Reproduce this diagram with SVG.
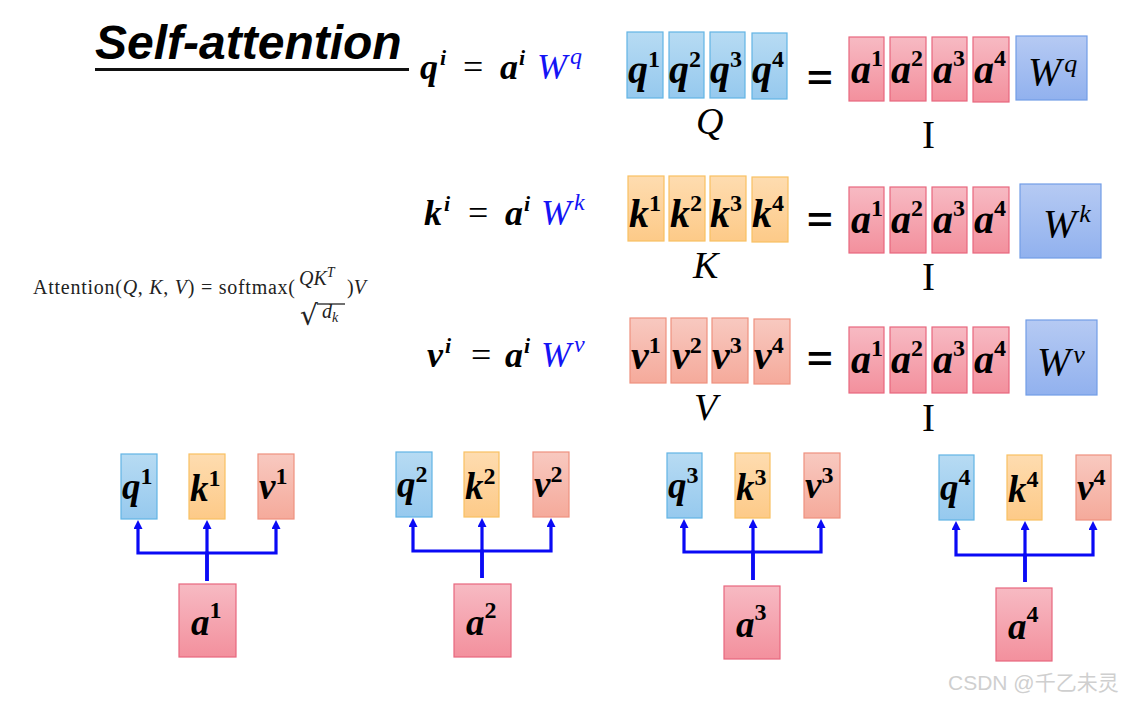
<svg xmlns="http://www.w3.org/2000/svg" width="1122" height="703" viewBox="0 0 1122 703">
<defs>
<linearGradient id="gq" x1="0" y1="0" x2="0" y2="1"><stop offset="0" stop-color="#b7dbf3"/><stop offset="1" stop-color="#96c9ee"/></linearGradient>
<linearGradient id="gk" x1="0" y1="0" x2="0" y2="1"><stop offset="0" stop-color="#fedcb0"/><stop offset="1" stop-color="#fdca88"/></linearGradient>
<linearGradient id="gv" x1="0" y1="0" x2="0" y2="1"><stop offset="0" stop-color="#f8c9c0"/><stop offset="1" stop-color="#f5aa9b"/></linearGradient>
<linearGradient id="ga" x1="0" y1="0" x2="0" y2="1"><stop offset="0" stop-color="#f7bac3"/><stop offset="1" stop-color="#f3909d"/></linearGradient>
<linearGradient id="gw" x1="0" y1="0" x2="0" y2="1"><stop offset="0" stop-color="#b6caf3"/><stop offset="1" stop-color="#91b1ee"/></linearGradient>
<marker id="ah" viewBox="0 0 10 10" refX="0" refY="5" markerWidth="9" markerHeight="9" markerUnits="userSpaceOnUse" orient="auto"><path d="M0,0 L10,5 L0,10 z" fill="#0a0af5"/></marker>
</defs>
<style>
.q{fill:url(#gq);stroke:#62b4e4;stroke-width:1.2}
.k{fill:url(#gk);stroke:#f8c062;stroke-width:1.2}
.v{fill:url(#gv);stroke:#ee917f;stroke-width:1.2}
.a{fill:url(#ga);stroke:#e8677e;stroke-width:1.2}
.w{fill:url(#gw);stroke:#729de6;stroke-width:1.2}
.m{font-family:"Liberation Serif","DejaVu Serif",serif;font-style:italic;font-weight:bold;fill:#000}
.big{font-size:40px}
.sm{font-size:37px}
.sup{font-style:normal;font-weight:bold;font-size:24px}
.wi{font-family:"Liberation Serif","DejaVu Serif",serif;font-style:italic;font-size:40px;fill:#000}
.wsup{font-size:26px}
.lab{font-family:"Liberation Serif","DejaVu Serif",serif;font-style:italic;font-size:38px;fill:#000}
.ii{font-family:"Liberation Serif","DejaVu Serif",serif;font-size:39px;fill:#000}
.eq{font-family:"Liberation Sans",Arial,sans-serif;font-weight:bold;font-size:44px;fill:#000}
.eqn{font-family:"Liberation Serif","DejaVu Serif",serif;font-size:36px;fill:#000}
.bl{font-style:italic;font-weight:bold}
.bsup{font-style:italic;font-weight:bold;font-size:22px}
.blue{font-style:italic;fill:#1414f5}
.bsupb{font-style:italic;font-size:24px;fill:#1414f5}
.cm{font-family:"Liberation Serif","DejaVu Serif",serif;font-size:20px;fill:#222}
.rad{font-family:"DejaVu Serif","Liberation Serif",serif;font-size:28px;fill:#222}
.conn path{fill:none;stroke:#0a0af5;stroke-width:3.2;marker-end:url(#ah)}
</style>

<g id="title">
<text x="95" y="59" font-family="Liberation Sans,Arial,sans-serif" font-weight="bold" font-style="italic" font-size="48" fill="#000">Self-attention</text>
<rect x="95" y="68" width="314" height="3" fill="#111"/>
</g>

<g id="formula">
<text class="cm" x="33" y="294" textLength="262" lengthAdjust="spacing">Attention(<tspan font-style="italic">Q</tspan>, <tspan font-style="italic">K</tspan>, <tspan font-style="italic">V</tspan>) = softmax(</text>
<text class="cm" x="299" y="285" font-style="italic">QK<tspan font-size="14" dy="-8">T</tspan></text>
<text class="rad" x="300" y="325">√</text>
<line x1="317" y1="304" x2="345" y2="304" stroke="#222" stroke-width="1.3"/>
<text class="cm" x="322" y="318" font-style="italic">d<tspan font-size="14" dy="4">k</tspan></text>
<text class="cm" x="347" y="294">)<tspan font-style="italic">V</tspan></text>
</g>

<g id="eq-q">
<text class="eqn" y="79"><tspan x="420" class="bl">q</tspan><tspan dx="2" dy="-14" class="bsup">i</tspan><tspan x="463" dy="14">=</tspan><tspan x="500" class="bl">a</tspan><tspan dx="1" dy="-14" class="bsup">i</tspan><tspan x="537" dy="14" class="blue">W</tspan><tspan dx="3" dy="-15" class="bsupb">q</tspan></text>
</g>
<g id="eq-k">
<text class="eqn" y="225"><tspan x="424" class="bl">k</tspan><tspan dx="2" dy="-14" class="bsup">i</tspan><tspan x="468" dy="14">=</tspan><tspan x="505" class="bl">a</tspan><tspan dx="1" dy="-14" class="bsup">i</tspan><tspan x="541" dy="14" class="blue">W</tspan><tspan dx="3" dy="-15" class="bsupb">k</tspan></text>
</g>
<g id="eq-v">
<text class="eqn" y="367"><tspan x="427" class="bl">v</tspan><tspan dx="2" dy="-14" class="bsup">i</tspan><tspan x="471" dy="14">=</tspan><tspan x="505" class="bl">a</tspan><tspan dx="1" dy="-14" class="bsup">i</tspan><tspan x="541" dy="14" class="blue">W</tspan><tspan dx="3" dy="-15" class="bsupb">v</tspan></text>
</g>

<!-- Row 1: Q = I Wq -->
<g id="Q1"><rect class="q" x="627" y="32" width="36" height="66"/><text class="m big" x="628" y="83">q<tspan class="sup" dy="-16">1</tspan></text></g>
<g id="Q2"><rect class="q" x="669" y="32" width="35" height="66"/><text class="m big" x="669" y="83">q<tspan class="sup" dy="-16">2</tspan></text></g>
<g id="Q3"><rect class="q" x="710" y="32" width="35" height="66"/><text class="m big" x="710" y="83">q<tspan class="sup" dy="-16">3</tspan></text></g>
<g id="Q4"><rect class="q" x="752" y="33" width="35" height="66"/><text class="m big" x="752" y="83">q<tspan class="sup" dy="-16">4</tspan></text></g>
<g id="eq1"><text class="eq" x="807" y="90" transform="translate(0,18) scale(1,0.8)">=</text></g>
<g id="A1r1"><rect class="a" x="849" y="37" width="35" height="64"/><text class="m big" x="851" y="83">a<tspan class="sup" dy="-17">1</tspan></text></g>
<g id="A2r1"><rect class="a" x="890" y="37" width="36" height="64"/><text class="m big" x="891" y="83">a<tspan class="sup" dy="-17">2</tspan></text></g>
<g id="A3r1"><rect class="a" x="932" y="37" width="35" height="64"/><text class="m big" x="933" y="83">a<tspan class="sup" dy="-17">3</tspan></text></g>
<g id="A4r1"><rect class="a" x="973" y="37" width="36" height="65"/><text class="m big" x="974" y="83">a<tspan class="sup" dy="-17">4</tspan></text></g>
<g id="Wq"><rect class="w" x="1016" y="36" width="71" height="64"/><text class="wi" x="1028" y="85">W<tspan class="wsup" dx="3" dy="-13">q</tspan></text></g>
<g id="labQ"><text class="lab" x="696" y="134">Q</text></g>
<g id="labI1"><text class="ii" x="922" y="148">I</text></g>

<!-- Row 2: K = I Wk -->
<g id="K1"><rect class="k" x="628" y="176" width="36" height="65"/><text class="m big" x="629" y="227">k<tspan class="sup" dy="-16">1</tspan></text></g>
<g id="K2"><rect class="k" x="669" y="176" width="36" height="65"/><text class="m big" x="670" y="227">k<tspan class="sup" dy="-16">2</tspan></text></g>
<g id="K3"><rect class="k" x="710" y="176" width="36" height="65"/><text class="m big" x="710" y="227">k<tspan class="sup" dy="-16">3</tspan></text></g>
<g id="K4"><rect class="k" x="752" y="177" width="36" height="65"/><text class="m big" x="752" y="227">k<tspan class="sup" dy="-16">4</tspan></text></g>
<g id="eq2"><text class="eq" x="807" y="90" transform="translate(0,160) scale(1,0.8)">=</text></g>
<g id="A1r2"><rect class="a" x="849" y="187" width="35" height="66"/><text class="m big" x="851" y="233">a<tspan class="sup" dy="-17">1</tspan></text></g>
<g id="A2r2"><rect class="a" x="890" y="187" width="36" height="66"/><text class="m big" x="891" y="233">a<tspan class="sup" dy="-17">2</tspan></text></g>
<g id="A3r2"><rect class="a" x="932" y="187" width="35" height="66"/><text class="m big" x="933" y="233">a<tspan class="sup" dy="-17">3</tspan></text></g>
<g id="A4r2"><rect class="a" x="973" y="187" width="36" height="66"/><text class="m big" x="974" y="233">a<tspan class="sup" dy="-17">4</tspan></text></g>
<g id="Wk"><rect class="w" x="1020" y="184" width="81" height="74"/><text class="wi" x="1043" y="237">W<tspan class="wsup" dx="3" dy="-15">k</tspan></text></g>
<g id="labK"><text class="lab" x="693" y="278">K</text></g>
<g id="labI2"><text class="ii" x="922" y="290">I</text></g>

<!-- Row 3: V = I Wv -->
<g id="V1"><rect class="v" x="630" y="318" width="36" height="65"/><text class="m big" x="631" y="369">v<tspan class="sup" dy="-16">1</tspan></text></g>
<g id="V2"><rect class="v" x="671" y="318" width="36" height="65"/><text class="m big" x="672" y="369">v<tspan class="sup" dy="-16">2</tspan></text></g>
<g id="V3"><rect class="v" x="712" y="318" width="36" height="65"/><text class="m big" x="712" y="369">v<tspan class="sup" dy="-16">3</tspan></text></g>
<g id="V4"><rect class="v" x="754" y="319" width="36" height="65"/><text class="m big" x="754" y="369">v<tspan class="sup" dy="-16">4</tspan></text></g>
<g id="eq3"><text class="eq" x="807" y="90" transform="translate(0,299) scale(1,0.8)">=</text></g>
<g id="A1r3"><rect class="a" x="849" y="327" width="35" height="66"/><text class="m big" x="851" y="373">a<tspan class="sup" dy="-17">1</tspan></text></g>
<g id="A2r3"><rect class="a" x="890" y="327" width="36" height="66"/><text class="m big" x="891" y="373">a<tspan class="sup" dy="-17">2</tspan></text></g>
<g id="A3r3"><rect class="a" x="932" y="327" width="35" height="66"/><text class="m big" x="933" y="373">a<tspan class="sup" dy="-17">3</tspan></text></g>
<g id="A4r3"><rect class="a" x="973" y="327" width="36" height="66"/><text class="m big" x="974" y="373">a<tspan class="sup" dy="-17">4</tspan></text></g>
<g id="Wv"><rect class="w" x="1026" y="320" width="71" height="75"/><text class="wi" x="1037" y="375">W<tspan class="wsup" dx="3" dy="-12">v</tspan></text></g>
<g id="labV"><text class="lab" x="694" y="420">V</text></g>
<g id="labI3"><text class="ii" x="922" y="431">I</text></g>

<!-- Bottom groups -->
<g id="q1"><rect class="q" x="121" y="454" width="36" height="65"/><text class="m sm" x="122" y="499">q<tspan class="sup" dy="-15">1</tspan></text></g>
<g id="k1"><rect class="k" x="189" y="454" width="36" height="65"/><text class="m sm" x="190" y="501">k<tspan class="sup" dy="-15">1</tspan></text></g>
<g id="v1"><rect class="v" x="258" y="454" width="36" height="65"/><text class="m sm" x="259" y="499">v<tspan class="sup" dy="-15">1</tspan></text></g>
<g id="a1"><rect class="a" x="179" y="584" width="57" height="73"/><text class="m sm" x="191" y="635">a<tspan class="sup" dy="-17">1</tspan></text></g>

<g id="q2"><rect class="q" x="396" y="452" width="36" height="65"/><text class="m sm" x="397" y="497">q<tspan class="sup" dy="-15">2</tspan></text></g>
<g id="k2"><rect class="k" x="464" y="452" width="35" height="65"/><text class="m sm" x="465" y="499">k<tspan class="sup" dy="-15">2</tspan></text></g>
<g id="v2"><rect class="v" x="533" y="452" width="36" height="65"/><text class="m sm" x="534" y="497">v<tspan class="sup" dy="-15">2</tspan></text></g>
<g id="a2"><rect class="a" x="454" y="584" width="57" height="73"/><text class="m sm" x="466" y="635">a<tspan class="sup" dy="-17">2</tspan></text></g>

<g id="q3"><rect class="q" x="667" y="453" width="35" height="65"/><text class="m sm" x="668" y="498">q<tspan class="sup" dy="-15">3</tspan></text></g>
<g id="k3"><rect class="k" x="735" y="453" width="35" height="65"/><text class="m sm" x="736" y="500">k<tspan class="sup" dy="-15">3</tspan></text></g>
<g id="v3"><rect class="v" x="804" y="453" width="36" height="65"/><text class="m sm" x="805" y="498">v<tspan class="sup" dy="-15">3</tspan></text></g>
<g id="a3"><rect class="a" x="724" y="586" width="56" height="73"/><text class="m sm" x="736" y="637">a<tspan class="sup" dy="-17">3</tspan></text></g>

<g id="q4"><rect class="q" x="939" y="455" width="35" height="65"/><text class="m sm" x="940" y="500">q<tspan class="sup" dy="-15">4</tspan></text></g>
<g id="k4"><rect class="k" x="1007" y="455" width="35" height="65"/><text class="m sm" x="1008" y="502">k<tspan class="sup" dy="-15">4</tspan></text></g>
<g id="v4"><rect class="v" x="1076" y="455" width="35" height="65"/><text class="m sm" x="1077" y="500">v<tspan class="sup" dy="-15">4</tspan></text></g>
<g id="a4"><rect class="a" x="996" y="588" width="56" height="73"/><text class="m sm" x="1008" y="639">a<tspan class="sup" dy="-17">4</tspan></text></g>

<g id="connectors" class="conn">
<path d="M207,581 V553 H138 V529"/>
<path d="M207,581 V529"/>
<path d="M207,581 V553 H276 V529"/>
<path d="M482,578 V551 H413 V527"/>
<path d="M482,578 V527"/>
<path d="M482,578 V551 H551 V527"/>
<path d="M753,580 V552 H684 V528"/>
<path d="M753,580 V528"/>
<path d="M753,580 V552 H821 V528"/>
<path d="M1025,582 V555 H956 V530"/>
<path d="M1025,582 V530"/>
<path d="M1025,582 V555 H1093 V530"/>
</g>

<g id="watermark"><text x="948" y="690" font-family="Liberation Sans,'Noto Sans CJK SC',sans-serif" font-size="21" fill="#cfcfcf">CSDN @千乙未灵</text></g>
</svg>
